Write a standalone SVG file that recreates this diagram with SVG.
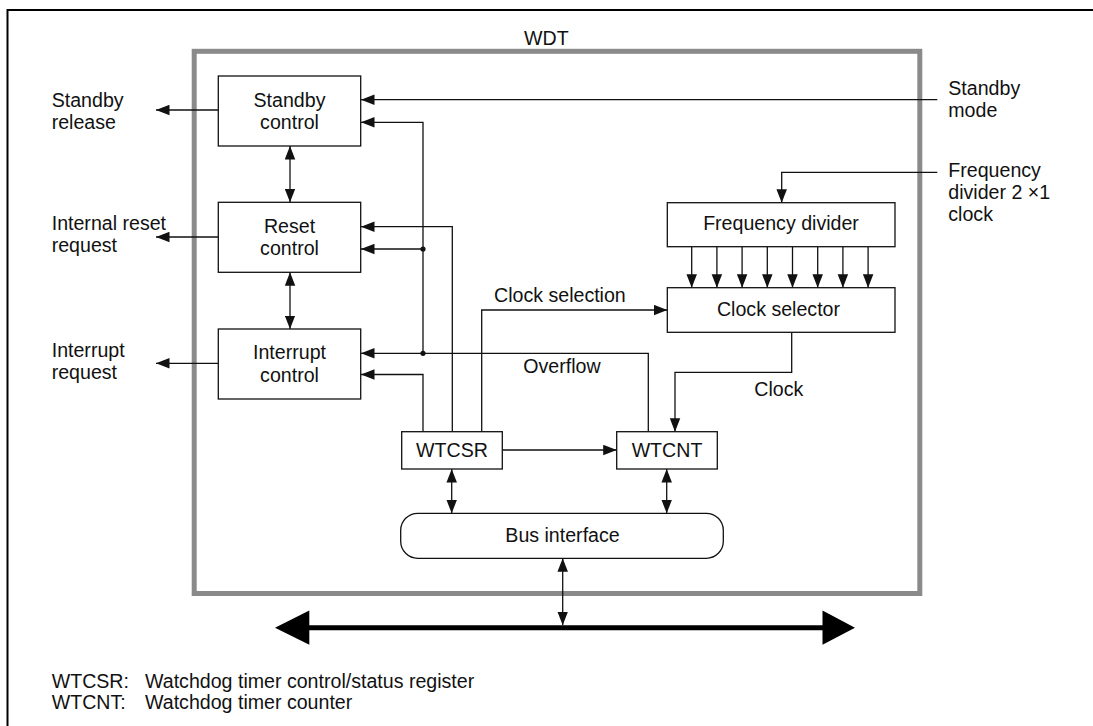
<svg xmlns="http://www.w3.org/2000/svg" width="1093" height="726" viewBox="0 0 1093 726">
<style>
text{font-family:"Liberation Sans",Arial,sans-serif;font-size:19.6px;fill:#111}
.c{text-anchor:middle}
.box{fill:#fff;stroke:#111;stroke-width:1.3}
.ln{fill:none;stroke:#111;stroke-width:1.3}
.a{marker-end:url(#ah)}
.d{marker-start:url(#ah);marker-end:url(#ah)}
</style>
<defs>
<marker id="ah" markerUnits="userSpaceOnUse" markerWidth="14" markerHeight="11" refX="13.5" refY="5.25" orient="auto-start-reverse" viewBox="0 0 14 10.5">
<path d="M0,0 L13.5,5.25 L0,10.5 z" fill="#111"/>
</marker>
</defs>
<rect width="1093" height="726" fill="#fff"/>
<path d="M7.5 740 V10 H1100" fill="none" stroke="#000" stroke-width="2"/>
<g id="wdt">
<rect x="194.2" y="51.3" width="725.6" height="542.2" fill="none" stroke="#8a8a8a" stroke-width="5"/>
<text x="524" y="45">WDT</text>
</g>
<g id="connectors">
<path class="ln a" d="M218.3 110 H156"/>
<path class="ln a" d="M218.3 237 H156"/>
<path class="ln a" d="M218.3 363.3 H156"/>
<path class="ln d" d="M290 146 V202.3"/>
<path class="ln d" d="M290 272.3 V329"/>
<path class="ln a" d="M937.3 99.7 H361"/>
<path class="ln a" d="M937.3 172.3 H781.7 V202.7"/>
<path class="ln a" d="M691.7 246.7 V287.7"/>
<path class="ln a" d="M716.9 246.7 V287.7"/>
<path class="ln a" d="M742.1 246.7 V287.7"/>
<path class="ln a" d="M767.3 246.7 V287.7"/>
<path class="ln a" d="M792.5 246.7 V287.7"/>
<path class="ln a" d="M817.7 246.7 V287.7"/>
<path class="ln a" d="M842.9 246.7 V287.7"/>
<path class="ln a" d="M868.1 246.7 V287.7"/>
<path class="ln a" d="M791.7 332.3 V372.3 H675 V431.7"/>
<path class="ln a" d="M648.3 431.7 V353.3 H361"/>
<path class="ln a" d="M423 353.3 V122.3 H361"/>
<path class="ln a" d="M423 249 H361"/>
<path class="ln a" d="M423 431.7 V374.5 H361"/>
<path class="ln a" d="M452.3 431.7 V226.7 H361"/>
<path class="ln a" d="M481.7 431.7 V310 H667.3"/>
<path class="ln a" d="M502.3 450 H616.7"/>
<path class="ln d" d="M451.7 469 V513.3"/>
<path class="ln d" d="M666.7 469 V513.3"/>
<path class="ln d" d="M562.7 558.3 V625.2"/>
<circle cx="423" cy="249" r="2.6" fill="#111"/>
<circle cx="423" cy="353.3" r="2.6" fill="#111"/>
<path d="M308 627.7 H823" stroke="#000" stroke-width="5"/>
<polygon points="275,627.7 309.3,610.5 309.3,644.8" fill="#000"/>
<polygon points="855,627.7 822.5,610.5 822.5,644.8" fill="#000"/>
<text x="494" y="301.7">Clock selection</text>
<text x="523.3" y="373.3">Overflow</text>
<text x="754.3" y="395.7">Clock</text>
</g>
<g id="standby-control">
<rect class="box" x="218.3" y="76" width="142.4" height="70"/>
<text class="c" x="289.5" y="106.5">Standby</text>
<text class="c" x="289.5" y="129">control</text>
</g>
<g id="reset-control">
<rect class="box" x="218.3" y="202.3" width="142.4" height="70"/>
<text class="c" x="289.5" y="232.5">Reset</text>
<text class="c" x="289.5" y="255">control</text>
</g>
<g id="interrupt-control">
<rect class="box" x="218.3" y="329" width="142.4" height="70"/>
<text class="c" x="289.5" y="359">Interrupt</text>
<text class="c" x="289.5" y="381.5">control</text>
</g>
<g id="frequency-divider">
<rect class="box" x="667.3" y="202.7" width="227.7" height="44"/>
<text class="c" x="781" y="230">Frequency divider</text>
</g>
<g id="clock-selector">
<rect class="box" x="667.3" y="287.7" width="227.7" height="44.6"/>
<text class="c" x="778.5" y="315.7">Clock selector</text>
</g>
<g id="wtcsr">
<rect class="box" x="401.7" y="431.7" width="100.6" height="37.3"/>
<text class="c" x="452" y="457.3">WTCSR</text>
</g>
<g id="wtcnt">
<rect class="box" x="616.7" y="431.7" width="100.6" height="37.3"/>
<text class="c" x="667" y="457.3">WTCNT</text>
</g>
<g id="bus-interface">
<rect class="box" x="400.7" y="513.3" width="322.6" height="45" rx="17" ry="17"/>
<text class="c" x="562.5" y="542.3">Bus interface</text>
</g>
<g id="labels">
<text x="51.7" y="106.7">Standby</text>
<text x="51.7" y="128.5">release</text>
<text x="51.7" y="230">Internal reset</text>
<text x="51.7" y="252">request</text>
<text x="51.7" y="356.5">Interrupt</text>
<text x="51.7" y="379">request</text>
<text x="948.3" y="95">Standby</text>
<text x="948.3" y="117">mode</text>
<text x="948.3" y="176.7">Frequency</text>
<text x="948.3" y="199">divider 2 ×1</text>
<text x="948.3" y="220.5">clock</text>
<text x="51.7" y="688.3">WTCSR:</text>
<text x="145" y="688.3">Watchdog timer control/status register</text>
<text x="51.7" y="709">WTCNT:</text>
<text x="145" y="709">Watchdog timer counter</text>
</g>
</svg>
